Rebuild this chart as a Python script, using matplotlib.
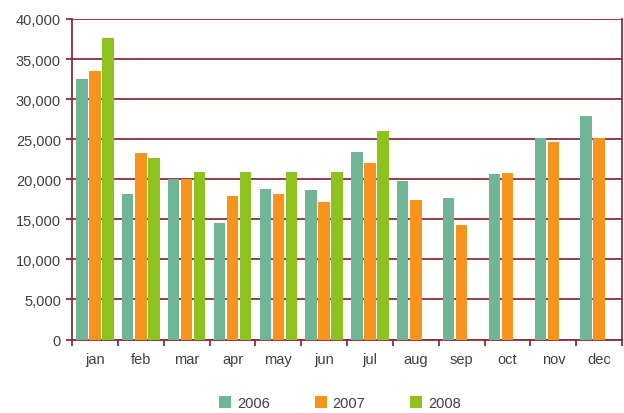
import numpy as np
import matplotlib.pyplot as plt

months = ["jan", "feb", "mar", "apr", "may", "jun", "jul", "aug", "sep", "oct", "nov", "dec"]
y2006 = [32500, 18100, 20000, 14500, 18750, 18600, 23400, 19800, 17700, 20700, 25150, 27850]
y2007 = [33500, 23250, 20000, 17950, 18100, 17100, 22000, 17450, 14300, 20750, 24600, 25150]
y2008 = [37600, 22700, 20950, 20950, 20950, 20950, 26050, 0, 0, 0, 0, 0]
years = ["2006", "2007", "2008"]
colors = ["#70b595", "#f7941d", "#8dc21f"]

plt.rcParams['font.family'] = ['Liberation Sans', 'DejaVu Sans']
grid_col = "#8b2d3c"
txt_col = "#404040"

fig = plt.figure(figsize=(6.24, 4.14), dpi=100)
ax = fig.add_axes([0.1154, 0.1775, 0.8816, 0.7742])

x = np.arange(len(months))
step = 0.285
w = 0.25
for i, (vals, c, lab) in enumerate(zip([y2006, y2007, y2008], colors, years)):
    ax.bar(x + (i - 1) * step, vals, width=w, color=c, label=lab, zorder=3)

ax.set_xlim(-0.5, len(months) - 0.5)
ax.set_ylim(0, 40000)
ax.set_yticks(np.arange(0, 40001, 5000))
ax.set_yticklabels([f"{v:,}" for v in range(0, 40001, 5000)])
ax.yaxis.grid(True, color=grid_col, linewidth=1.3, zorder=1)
ax.set_xticks(x)
ax.set_xticklabels(months)
ax.set_xticks(np.arange(-0.5, len(months)), minor=True)
ax.tick_params(axis='x', which='major', length=0, pad=9, labelsize=10.5, labelcolor=txt_col)
ax.tick_params(axis='x', which='minor', length=4, width=1.3, color=grid_col)
ax.tick_params(axis='y', length=4, width=1.3, color=grid_col, pad=4, labelsize=10.5, labelcolor=txt_col)

for s in ["left", "bottom", "right"]:
    ax.spines[s].set_color(grid_col)
    ax.spines[s].set_linewidth(1.3)
ax.spines["top"].set_visible(False)

fig.legend(loc="center", bbox_to_anchor=(0.545, 0.024), ncol=3, frameon=False,
           handlelength=0.8, handleheight=0.8, handletextpad=0.4, columnspacing=3.1,
           fontsize=10.5, labelcolor=txt_col)

fig.savefig("out.png", dpi=100)
